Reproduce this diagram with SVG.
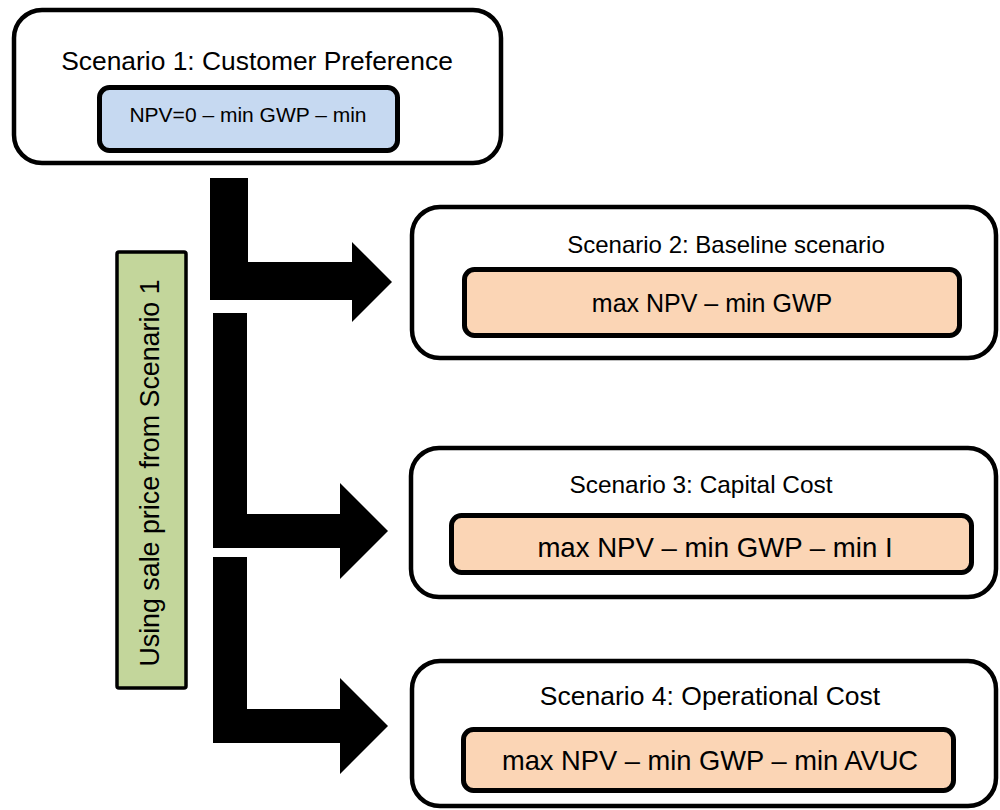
<svg xmlns="http://www.w3.org/2000/svg" width="1000" height="810" viewBox="0 0 1000 810">
<style>
.outer{fill:#ffffff;stroke:#000;stroke-width:4.5}
.inner{stroke:#000;stroke-width:5}
.blue{fill:#c6d9f1}
.orange{fill:#fbd5b5}
.green{fill:#c3d69b;stroke:#000;stroke-width:3.5}
text{font-family:"Liberation Sans",Arial,sans-serif;fill:#000;text-anchor:middle}
.t{font-size:25px}
.s{font-size:25px}
.arrow{fill:#000}
</style>
<rect width="1000" height="810" fill="#fff"/>
<g id="connectors">
<polygon class="arrow" points="210,178 248,178 248,262 352,262 352,242 392,282 352,322 352,300 210,300"/>
<polygon class="arrow" points="213,313 247,313 247,514 340,514 340,483 388,531 340,579 340,548 213,548"/>
<polygon class="arrow" points="213,557 247,557 247,709 340,709 340,678 388,726 340,774 340,743 213,743"/>
</g>
<g id="scenario1">
<rect class="outer" x="14" y="10" width="487" height="153" rx="28"/>
<text class="t" x="257" y="70" style="font-size:26.4px">Scenario 1: Customer Preference</text>
<rect class="inner blue" x="99.5" y="87.5" width="298" height="63" rx="10"/>
<text x="248" y="122" style="font-size:21px">NPV=0 – min GWP – min</text>
</g>
<g id="note">
<rect class="green" x="117" y="252" width="69" height="436" rx="2"/>
<text class="s" transform="translate(159,473) rotate(-90)" style="font-size:26.8px">Using sale price from Scenario 1</text>
</g>
<g id="scenario2">
<rect class="outer" x="412" y="207" width="584" height="151" rx="28"/>
<text class="t" x="726" y="253" style="font-size:24px">Scenario 2: Baseline scenario</text>
<rect class="inner orange" x="464.5" y="269.5" width="495" height="66" rx="10"/>
<text class="s" x="712" y="312">max NPV – min GWP</text>
</g>
<g id="scenario3">
<rect class="outer" x="411" y="448" width="585" height="149" rx="28"/>
<text class="t" x="701" y="493" style="font-size:24.4px">Scenario 3: Capital Cost</text>
<rect class="inner orange" x="451.5" y="515.5" width="520" height="57" rx="10"/>
<text class="s" x="715" y="557" style="font-size:27.6px">max NPV – min GWP – min I</text>
</g>
<g id="scenario4">
<rect class="outer" x="412" y="661" width="584" height="145" rx="28"/>
<text class="t" x="710" y="705" style="font-size:26.5px">Scenario 4: Operational Cost</text>
<rect class="inner orange" x="463.5" y="729.5" width="490" height="61" rx="10"/>
<text class="s" x="710" y="770" style="font-size:27.3px">max NPV – min GWP – min AVUC</text>
</g>
</svg>
